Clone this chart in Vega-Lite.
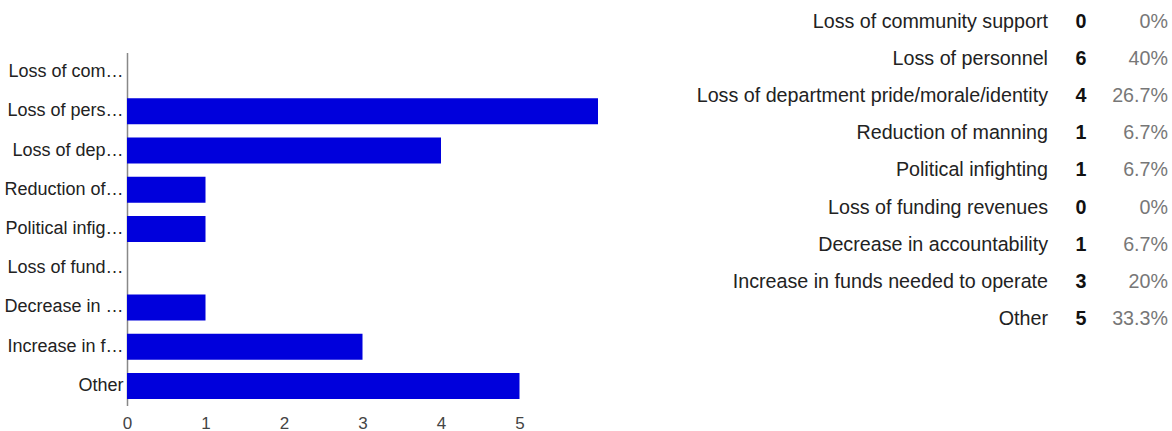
{
  "$schema": "https://vega.github.io/schema/vega-lite/v6.json",
  "padding": {"left": 3, "top": 2, "right": 4, "bottom": 0},
  "bounds": "flush",
  "spacing": 0,
  "config": {
    "view": {"stroke": null},
    "font": "Liberation Sans",
    "text": {"font": "Liberation Sans"}
  },
  "data": {
    "values": [
      {"answer": "Loss of community support", "count": 0, "pct": 0},
      {"answer": "Loss of personnel", "count": 6, "pct": 0.4},
      {"answer": "Loss of department pride/morale/identity", "count": 4, "pct": 0.267},
      {"answer": "Reduction of manning", "count": 1, "pct": 0.067},
      {"answer": "Political infighting", "count": 1, "pct": 0.067},
      {"answer": "Loss of funding revenues", "count": 0, "pct": 0},
      {"answer": "Decrease in accountability", "count": 1, "pct": 0.067},
      {"answer": "Increase in funds needed to operate", "count": 3, "pct": 0.2},
      {"answer": "Other", "count": 5, "pct": 0.333}
    ]
  },
  "resolve": {"scale": {"x": "independent", "y": "independent"}},
  "hconcat": [
    {
      "width": 471,
      "height": 403,
      "mark": {"type": "bar", "color": "#0000dc"},
      "encoding": {
        "y": {
          "field": "answer", "type": "nominal", "sort": null,
          "scale": {"range": [50.4, 403.6], "paddingInner": 0.337, "paddingOuter": 0.1685},
          "axis": {
            "title": null, "ticks": false, "labelLimit": 120, "labelPadding": 4,
            "labelFontSize": 18, "labelColor": "#222222", "labelFont": "Liberation Sans",
            "domainColor": "#888888", "domainWidth": 1.5
          }
        },
        "x": {
          "field": "count", "type": "quantitative",
          "scale": {"domain": [0, 6], "nice": false},
          "axis": {
            "title": null, "values": [0, 1, 2, 3, 4, 5], "grid": false, "domain": false,
            "ticks": false, "labelPadding": 10, "labelFontSize": 17, "labelFlush": false,
            "labelColor": "#444444", "labelFont": "Liberation Sans"
          }
        }
      }
    },
    {
      "width": 450,
      "height": 403,
      "mark": {"type": "text", "align": "right", "baseline": "middle", "fontSize": 19.7, "color": "#222222"},
      "encoding": {
        "y": {"field": "answer", "type": "nominal", "sort": null,
              "scale": {"range": [1.5, 335.4], "paddingInner": 0, "paddingOuter": 0}, "axis": null},
        "x": {"value": "width"},
        "text": {"field": "answer"}
      }
    },
    {
      "width": 66,
      "height": 403,
      "mark": {"type": "text", "align": "center", "baseline": "middle", "fontSize": 19.7, "fontWeight": "bold", "color": "#111111"},
      "encoding": {
        "y": {"field": "answer", "type": "nominal", "sort": null,
              "scale": {"range": [1.5, 335.4], "paddingInner": 0, "paddingOuter": 0}, "axis": null},
        "text": {"field": "count", "type": "quantitative"}
      }
    },
    {
      "width": 54,
      "height": 403,
      "mark": {"type": "text", "align": "right", "baseline": "middle", "fontSize": 19.7, "color": "#777777"},
      "encoding": {
        "y": {"field": "answer", "type": "nominal", "sort": null,
              "scale": {"range": [1.5, 335.4], "paddingInner": 0, "paddingOuter": 0}, "axis": null},
        "x": {"value": "width"},
        "text": {"field": "pct", "type": "quantitative", "format": ".1~%"}
      }
    }
  ]
}
